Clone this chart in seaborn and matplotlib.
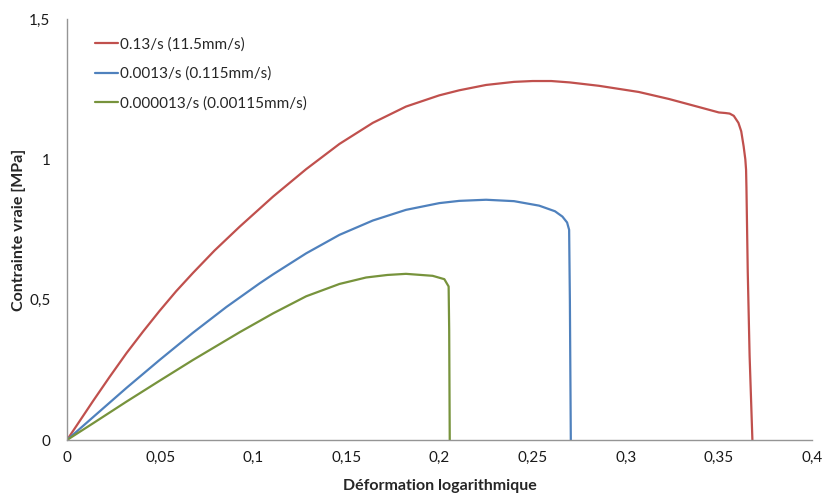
import numpy as np
import pandas as pd
import seaborn as sns
from matplotlib import pyplot as plt
from matplotlib.ticker import FuncFormatter

# Courbes contrainte vraie / deformation logarithmique
labels = ['0.13/s (11.5mm/s)', '0.0013/s (0.115mm/s)', '0.000013/s (0.00115mm/s)']
colors = ['#C0504D', '#4F81BD', '#77933C']

red_x = [0, 0.0141, 0.0229, 0.032, 0.0409, 0.0497, 0.0586, 0.0676, 0.0792, 0.0927,
         0.1106, 0.1284, 0.1463, 0.1642, 0.182, 0.1999, 0.2106, 0.225, 0.24, 0.25,
         0.26, 0.27, 0.2856, 0.307, 0.3232, 0.34, 0.35, 0.3535, 0.3558, 0.358,
         0.3605, 0.362, 0.3633, 0.3642, 0.3646, 0.3648, 0.3655, 0.3665, 0.368]
red_y = [0, 0.14, 0.225, 0.31, 0.387, 0.46, 0.53, 0.595, 0.675, 0.76,
         0.867, 0.965, 1.055, 1.13, 1.188, 1.228, 1.246, 1.265, 1.276, 1.279,
         1.279, 1.274, 1.262, 1.24, 1.215, 1.185, 1.167, 1.165, 1.163, 1.155,
         1.13, 1.10, 1.046, 1.0, 0.963, 0.90, 0.6, 0.3, 0.0]

blue_x = [0, 0.0141, 0.032, 0.0497, 0.0676, 0.0856, 0.1034, 0.1106, 0.1284,
          0.1463, 0.1642, 0.182, 0.1999, 0.2106, 0.225, 0.24, 0.2535, 0.262, 0.266,
          0.2685, 0.2696, 0.270, 0.2705]
blue_y = [0, 0.082, 0.186, 0.285, 0.382, 0.474, 0.558, 0.59, 0.665,
          0.731, 0.782, 0.82, 0.844, 0.852, 0.856, 0.851, 0.835, 0.815, 0.796,
          0.775, 0.749, 0.5, 0.0]

green_x = [0, 0.0141, 0.032, 0.0497, 0.0676, 0.0856, 0.0927, 0.1034, 0.1106, 0.1284,
           0.1463, 0.1606, 0.172, 0.182, 0.1963, 0.2026, 0.2049, 0.2052, 0.2055]
green_y = [0, 0.06, 0.137, 0.211, 0.285, 0.356, 0.384, 0.424, 0.451, 0.512,
           0.556, 0.579, 0.588, 0.592, 0.585, 0.573, 0.547, 0.392, 0.0]

x_ticks = [0, 0.05, 0.1, 0.15, 0.2, 0.25, 0.3, 0.35, 0.4]
y_ticks = [0, 0.5, 1, 1.5]

df = pd.concat([
    pd.DataFrame({'eps': red_x, 'sig': red_y, 'vitesse': labels[0]}),
    pd.DataFrame({'eps': blue_x, 'sig': blue_y, 'vitesse': labels[1]}),
    pd.DataFrame({'eps': green_x, 'sig': green_y, 'vitesse': labels[2]}),
], ignore_index=True)

sns.set_style('white')
plt.rcParams['font.family'] = ['Lato', 'DejaVu Sans']

fig = plt.figure(figsize=(8.26, 4.95), dpi=100)
ax = fig.add_axes([67 / 826, 55 / 495, 745 / 826, 421 / 495])

sns.lineplot(data=df, x='eps', y='sig', hue='vitesse', palette=colors, sort=False,
             estimator=None, linewidth=1.6, ax=ax)
for line in ax.get_lines():
    line.set_solid_joinstyle('round')

ax.set_xlim(0, 0.4)
ax.set_ylim(0, 1.5)
ax.set_xticks(x_ticks)
ax.set_yticks(y_ticks)
comma = FuncFormatter(lambda v, pos: f'{v:g}'.replace('.', ','))
ax.xaxis.set_major_formatter(comma)
ax.yaxis.set_major_formatter(comma)

for side in ['top', 'right']:
    ax.spines[side].set_visible(False)
for side in ['left', 'bottom']:
    ax.spines[side].set_color('#959595')
    ax.spines[side].set_linewidth(1.0)
ax.tick_params(direction='inout', length=8, width=1.0, color='#959595',
               labelsize=11, labelcolor='#1a1a1a', pad=4)
ax.tick_params(axis='y', pad=8)

ax.set_xlabel('Déformation logarithmique', fontsize=11.5, fontweight='bold', labelpad=10)
ax.set_ylabel('Contrainte vraie [MPa]', fontsize=11.5, fontweight='bold', labelpad=2)

leg = ax.legend(loc='upper left', bbox_to_anchor=(95 / 826, 1 - 37 / 495),
                bbox_transform=fig.transFigure, frameon=False, fontsize=11,
                handlelength=1.5, handletextpad=0.15, labelspacing=1.0,
                borderpad=0, borderaxespad=0)
for line in leg.get_lines():
    line.set_linewidth(1.6)

fig.savefig('out.png', dpi=100)
